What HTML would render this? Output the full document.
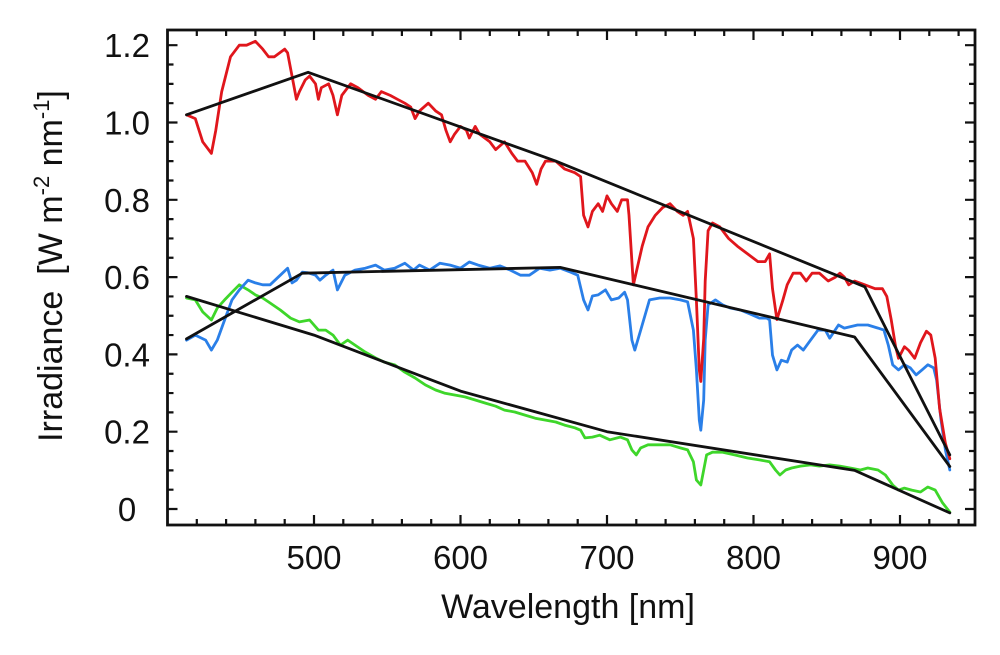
<!DOCTYPE html>
<html><head><meta charset="utf-8"><style>
html,body{margin:0;padding:0;background:#fff;}
svg{display:block;font-family:"Liberation Sans",sans-serif;}
</style></head><body>
<svg id="chart" width="1000" height="655" viewBox="0 0 1000 655" xmlns="http://www.w3.org/2000/svg">
<g id="plot"></g>
<text x="568" y="618" font-size="34" text-anchor="middle" fill="#111">Wavelength [nm]</text>
<text transform="translate(62,266) rotate(-90)" font-size="34" text-anchor="middle" fill="#111">Irradiance<tspan dx="16">[W m</tspan><tspan font-size="22" dy="-13">-2</tspan><tspan dy="13"> nm</tspan><tspan font-size="22" dy="-13">-1</tspan><tspan dy="13">]</tspan></text>
</svg>
<script>
const xTicks=[500,600,700,800,900];
const yTicks=[0,0.2,0.4,0.6,0.8,1.0,1.2];
const yTickLabels=["0","0.2","0.4","0.6","0.8","1.0","1.2"];
const redWl=[413,419,424,430,433,437,443,449,454,460,465,469,473,480,482,486,488,490,494,497,501,503,505,510,513,516,519,525,530,537,542,546,552,557,562,566,569,572,578,583,587,590,593,596,600,604,606,610,613,620,624,630,635,639,644,649,652,655,658,665,671,678,682,684,687,690,694,697,700,703,707,710,714,715,717,718,721,724,728,733,738,743,748,752,755,759,761,763,764,766,767,769,772,777,783,789,796,803,808,811,813,816,820,823,827,832,836,840,845,851,856,859,862,865,869,876,883,888,891,894,897,899,903,906,910,914,918,921,924,927,931,934];
const redVal=[1.02,1.01,0.95,0.92,0.98,1.08,1.17,1.20,1.20,1.21,1.19,1.17,1.17,1.19,1.18,1.10,1.06,1.08,1.11,1.12,1.10,1.06,1.09,1.10,1.07,1.02,1.07,1.10,1.09,1.07,1.06,1.08,1.07,1.06,1.05,1.04,1.01,1.03,1.05,1.03,1.02,0.98,0.95,0.97,0.99,0.98,0.96,0.99,0.97,0.95,0.93,0.95,0.92,0.90,0.90,0.87,0.84,0.88,0.90,0.90,0.88,0.87,0.86,0.76,0.73,0.77,0.79,0.77,0.81,0.79,0.77,0.80,0.80,0.76,0.64,0.58,0.63,0.68,0.73,0.76,0.78,0.79,0.77,0.76,0.77,0.70,0.54,0.36,0.33,0.44,0.59,0.72,0.74,0.73,0.70,0.68,0.66,0.64,0.64,0.66,0.57,0.49,0.54,0.58,0.61,0.61,0.59,0.61,0.61,0.59,0.60,0.61,0.60,0.58,0.59,0.58,0.57,0.57,0.55,0.49,0.42,0.39,0.42,0.41,0.39,0.43,0.46,0.45,0.39,0.26,0.17,0.13];
const blueWl=[413,419,426,430,434,439,444,449,455,460,465,470,477,482,485,488,492,496,501,504,508,513,516,521,528,535,542,548,555,562,568,572,579,586,593,600,606,612,620,627,634,641,647,654,661,668,675,680,684,687,690,694,699,703,708,712,714,717,719,723,726,729,736,743,750,755,759,761,763,764,766,767,769,774,779,784,791,798,804,809,811,813,816,819,823,826,830,834,839,844,849,852,858,862,871,878,885,889,892,895,899,903,907,911,915,919,923,925,928,931,934];
const blueVal=[0.437,0.450,0.437,0.411,0.437,0.489,0.541,0.567,0.592,0.585,0.580,0.580,0.605,0.623,0.585,0.592,0.613,0.611,0.605,0.592,0.605,0.618,0.567,0.605,0.618,0.623,0.631,0.618,0.623,0.636,0.618,0.631,0.618,0.636,0.631,0.623,0.639,0.631,0.623,0.629,0.618,0.605,0.605,0.623,0.618,0.623,0.613,0.605,0.541,0.515,0.551,0.554,0.567,0.541,0.546,0.561,0.541,0.437,0.411,0.463,0.502,0.541,0.546,0.546,0.541,0.536,0.463,0.360,0.230,0.204,0.282,0.437,0.528,0.541,0.528,0.520,0.515,0.504,0.494,0.494,0.489,0.398,0.360,0.385,0.380,0.411,0.424,0.411,0.437,0.463,0.463,0.442,0.476,0.468,0.476,0.476,0.468,0.463,0.424,0.373,0.360,0.373,0.365,0.347,0.360,0.373,0.365,0.334,0.230,0.153,0.101];
const greenWl=[413,419,424,430,434,439,444,449,455,460,465,470,477,484,490,497,503,508,513,518,523,528,535,542,548,555,562,569,576,583,589,596,603,610,617,624,630,637,644,651,658,665,671,678,682,685,690,695,702,709,714,717,720,723,728,735,743,750,755,759,761,764,766,768,772,779,787,796,804,811,815,818,822,826,832,839,845,852,859,866,873,878,885,890,895,899,903,908,914,919,924,929,934];
const greenVal=[0.546,0.541,0.510,0.489,0.520,0.541,0.561,0.580,0.567,0.554,0.546,0.533,0.515,0.494,0.484,0.489,0.463,0.463,0.450,0.424,0.437,0.424,0.406,0.391,0.380,0.373,0.354,0.339,0.321,0.308,0.300,0.295,0.290,0.282,0.274,0.266,0.256,0.251,0.243,0.235,0.230,0.225,0.217,0.210,0.204,0.184,0.186,0.191,0.179,0.186,0.179,0.153,0.140,0.158,0.166,0.166,0.166,0.158,0.153,0.122,0.075,0.062,0.101,0.140,0.147,0.147,0.140,0.132,0.127,0.122,0.101,0.088,0.101,0.106,0.111,0.114,0.111,0.114,0.111,0.106,0.101,0.106,0.101,0.088,0.062,0.049,0.054,0.049,0.044,0.057,0.049,0.016,-0.008];
const redFitWl=[413,496,665,876,934];
const redFitVal=[1.02,1.13,0.90,0.575,0.14];
const blueFitWl=[413,492,668,869,934];
const blueFitVal=[0.44,0.61,0.625,0.445,0.11];
const greenFitWl=[413,500,600,700,869,934];
const greenFitVal=[0.55,0.45,0.305,0.20,0.10,-0.01];

const X0=167.5,X1=975,Y0=30,Y1=525;
const xs=v=>X0+(v-400)*1.465;
const ys=v=>509-v*386.5;
const NS="http://www.w3.org/2000/svg";
const g=document.getElementById('plot');
function mk(t,a){const e=document.createElementNS(NS,t);for(const k in a)e.setAttribute(k,a[k]);g.appendChild(e);return e;}
function line(wl,val,color,name,w){
  const d=wl.map((v,i)=>(i?'L':'M')+xs(v).toFixed(1)+','+ys(val[i]).toFixed(1)).join('');
  const p=mk('path',{d:d,fill:'none',stroke:color,'stroke-width':w,'stroke-linejoin':'round','stroke-linecap':'round'});
  
  
}
line(greenWl,greenVal,'#3ed62a','green-series',2.8);
line(blueWl,blueVal,'#2a7fe8','blue-series',2.8);
line(redWl,redVal,'#e0161c','red-series',2.8);
line(greenFitWl,greenFitVal,'#111','green-fit-line',2.8);
line(blueFitWl,blueFitVal,'#111','blue-fit-line',2.8);
line(redFitWl,redFitVal,'#111','red-fit-line',2.8);
let td='';
for(let v=420;v<=950;v+=20){const x=xs(v);const L=(v%100===0)?10:6;td+=`M${x},${Y1}v${-L}M${x},${Y0}v${L}`;}
for(let k=0;k<=24;k++){const v=k*0.05;const y=ys(v);const L=(k%4===0)?10:6;td+=`M${X0},${y}h${L}M${X1},${y}h${-L}`;}
const tk=mk('path',{d:td,stroke:'#111','stroke-width':2.2,fill:'none'});


const fr=mk('rect',{x:X0,y:Y0,width:X1-X0,height:Y1-Y0,fill:'none',stroke:'#111','stroke-width':2.8});


xTicks.forEach(v=>{const t=mk('text',{x:xs(v),y:569,'font-size':33,'text-anchor':'middle',fill:'#111'});t.textContent=v;

});
yTicks.forEach((v,i)=>{const t=mk('text',{x:127,y:ys(v)+12,'font-size':33,'text-anchor':'middle',fill:'#111'});t.textContent=yTickLabels[i];

});
</script>
</body></html>
